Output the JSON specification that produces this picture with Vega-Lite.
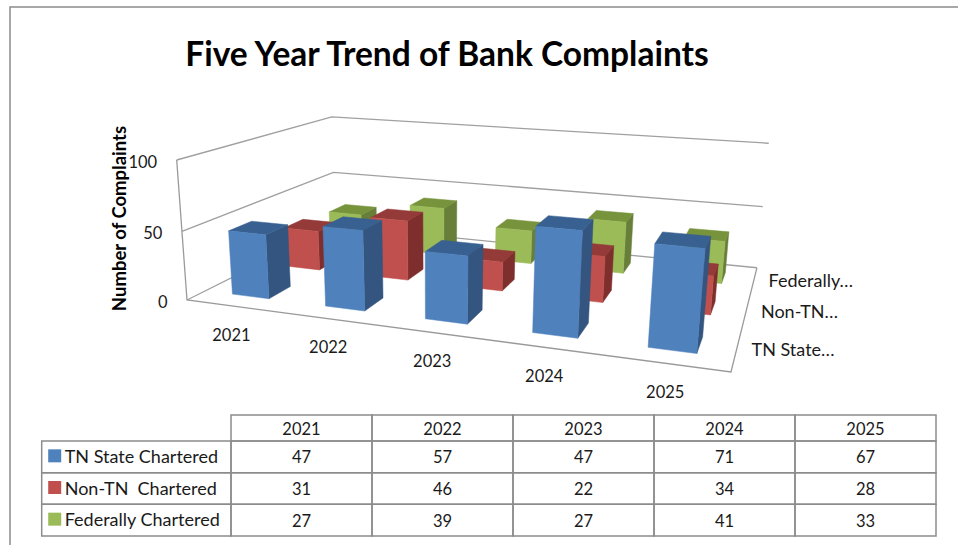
{
  "$schema": "https://vega.github.io/schema/vega-lite/v6.json",
  "width": 958,
  "height": 545,
  "padding": 0,
  "autosize": "none",
  "background": "white",
  "config": {"view": {"stroke": null}, "font": "Lato"},
  "title": {
    "text": "Five Year Trend of Bank Complaints",
    "font": "Lato", "fontSize": 33.5, "fontWeight": "bold", "color": "#000000",
    "anchor": "middle", "orient": "top", "offset": 0, "dx": -32, "dy": 99, "baseline": "alphabetic"
  },
  "datasets": {
    "complaints": [
      {"series": "Federally Chartered", "year": 2021, "value": 27},
      {"series": "Federally Chartered", "year": 2022, "value": 39},
      {"series": "Federally Chartered", "year": 2023, "value": 27},
      {"series": "Federally Chartered", "year": 2024, "value": 41},
      {"series": "Federally Chartered", "year": 2025, "value": 33},
      {"series": "Non-TN  Chartered", "year": 2021, "value": 31},
      {"series": "Non-TN  Chartered", "year": 2022, "value": 46},
      {"series": "Non-TN  Chartered", "year": 2023, "value": 22},
      {"series": "Non-TN  Chartered", "year": 2024, "value": 34},
      {"series": "Non-TN  Chartered", "year": 2025, "value": 28},
      {"series": "TN State Chartered", "year": 2021, "value": 47},
      {"series": "TN State Chartered", "year": 2022, "value": 57},
      {"series": "TN State Chartered", "year": 2023, "value": 47},
      {"series": "TN State Chartered", "year": 2024, "value": 71},
      {"series": "TN State Chartered", "year": 2025, "value": 67}
    ],
    "seriesNames": [
      {"series": "TN State Chartered", "label": "TN State Chartered", "short": "TN State…", "depth": 0},
      {"series": "Non-TN  Chartered", "label": "Non-TN \u00a0Chartered", "short": "Non-TN…", "depth": 1},
      {"series": "Federally Chartered", "label": "Federally Chartered", "short": "Federally…", "depth": 2}
    ],
    "ticks": [{"tick": 0}, {"tick": 50}, {"tick": 100}]
  },
  "resolve": {"scale": {"x": "independent", "y": "independent"}, "axis": {"x": "independent", "y": "independent"}},
  "layer": [
    {
      "description": "Outer chart frame",
      "data": {"values": [{"part": "frame"}]},
      "transform": [
        {"calculate": "{type:'LineString',coordinates:[[10,546],[10,7],[959,7]]}", "as": "path"}
      ],
      "mark": {"type": "geoshape", "filled": false, "stroke": "#8c8c8c", "strokeWidth": 1.5},
      "projection": {"type": "identity", "scale": 1, "translate": [0, 0]},
      "encoding": {"shape": {"field": "path", "type": "geojson"}}
    },
    {
      "description": "Gridlines on the two back walls, one polyline per tick",
      "data": {"name": "ticks"},
      "transform": [
        {"calculate": "datum.tick/100", "as": "w"},
        {"calculate": "{type:'LineString',coordinates:[[(187-17.4*datum.w)/(1-0.04*datum.w),(300-146.4*datum.w)/(1-0.04*datum.w)],[(435.4-17.4*datum.w)/(1.2997-0.04*datum.w),(293.7-146.4*datum.w)/(1.2997-0.04*datum.w)],[(855.1-17.4*datum.w)/(1.1297-0.04*datum.w),(302.5-146.4*datum.w)/(1.1297-0.04*datum.w)]]}", "as": "path"}
      ],
      "mark": {"type": "geoshape", "filled": false, "stroke": "#a0a0a0", "strokeWidth": 1.3},
      "projection": {"type": "identity", "scale": 1, "translate": [0, 0]},
      "encoding": {"shape": {"field": "path", "type": "geojson"}}
    },
    {
      "description": "Value-axis edge and the front and right edges of the floor",
      "data": {"values": [{"part": "floor"}]},
      "transform": [
        {"calculate": "{type:'LineString',coordinates:[[176.7,160],[187,300],[731,372],[756.9,267.8]]}", "as": "path"}
      ],
      "mark": {"type": "geoshape", "filled": false, "stroke": "#9a9a9a", "strokeWidth": 1.3},
      "projection": {"type": "identity", "scale": 1, "translate": [0, 0]},
      "encoding": {"shape": {"field": "path", "type": "geojson"}}
    },
    {
      "description": "Box faces: side, top and front of each bar, from the back series forward",
      "data": {"name": "complaints"},
      "transform": [
        {"calculate": "(datum.year-2021+0.3)*0.2", "as": "u0"},
        {"calculate": "datum.u0+0.08", "as": "u1"},
        {"calculate": "(indexof(['TN State Chartered','Non-TN  Chartered','Federally Chartered'],datum.series)+0.3)/3", "as": "v0"},
        {"calculate": "datum.v0+0.4/3", "as": "v1"},
        {"calculate": "datum.value/100", "as": "w"},
        {"calculate": "[(187+419.7*datum.u0+248.4*datum.v0)/(1-0.17*datum.u0+0.2997*datum.v0),(300+8.8*datum.u0-6.3*datum.v0)/(1-0.17*datum.u0+0.2997*datum.v0)]", "as": "flb"},
        {"calculate": "[(187+419.7*datum.u1+248.4*datum.v0)/(1-0.17*datum.u1+0.2997*datum.v0),(300+8.8*datum.u1-6.3*datum.v0)/(1-0.17*datum.u1+0.2997*datum.v0)]", "as": "frb"},
        {"calculate": "[(187+419.7*datum.u1+248.4*datum.v1)/(1-0.17*datum.u1+0.2997*datum.v1),(300+8.8*datum.u1-6.3*datum.v1)/(1-0.17*datum.u1+0.2997*datum.v1)]", "as": "brb"},
        {"calculate": "[(187+419.7*datum.u0+248.4*datum.v0-17.4*datum.w)/(1-0.17*datum.u0+0.2997*datum.v0-0.04*datum.w),(300+8.8*datum.u0-6.3*datum.v0-146.4*datum.w)/(1-0.17*datum.u0+0.2997*datum.v0-0.04*datum.w)]", "as": "flt"},
        {"calculate": "[(187+419.7*datum.u1+248.4*datum.v0-17.4*datum.w)/(1-0.17*datum.u1+0.2997*datum.v0-0.04*datum.w),(300+8.8*datum.u1-6.3*datum.v0-146.4*datum.w)/(1-0.17*datum.u1+0.2997*datum.v0-0.04*datum.w)]", "as": "frt"},
        {"calculate": "[(187+419.7*datum.u1+248.4*datum.v1-17.4*datum.w)/(1-0.17*datum.u1+0.2997*datum.v1-0.04*datum.w),(300+8.8*datum.u1-6.3*datum.v1-146.4*datum.w)/(1-0.17*datum.u1+0.2997*datum.v1-0.04*datum.w)]", "as": "brt"},
        {"calculate": "[(187+419.7*datum.u0+248.4*datum.v1-17.4*datum.w)/(1-0.17*datum.u0+0.2997*datum.v1-0.04*datum.w),(300+8.8*datum.u0-6.3*datum.v1-146.4*datum.w)/(1-0.17*datum.u0+0.2997*datum.v1-0.04*datum.w)]", "as": "blt"},
        {"calculate": "{type:'Polygon',coordinates:[[datum.frb,datum.brb,datum.brt,datum.frt,datum.frb]]}", "as": "side"},
        {"calculate": "{type:'Polygon',coordinates:[[datum.flt,datum.frt,datum.brt,datum.blt,datum.flt]]}", "as": "top"},
        {"calculate": "{type:'Polygon',coordinates:[[datum.flb,datum.frb,datum.frt,datum.flt,datum.flb]]}", "as": "front"},
        {"fold": ["side", "top", "front"], "as": ["face", "faceShape"]},
        {"calculate": "datum.series+' '+datum.face", "as": "shade"}
      ],
      "mark": {"type": "geoshape", "strokeWidth": 0.5},
      "projection": {"type": "identity", "scale": 1, "translate": [0, 0]},
      "encoding": {
        "shape": {"field": "faceShape", "type": "geojson"},
        "fill": {"field": "shade", "type": "nominal", "legend": null, "scale": {
          "domain": ["TN State Chartered front", "TN State Chartered side", "TN State Chartered top", "Non-TN  Chartered front", "Non-TN  Chartered side", "Non-TN  Chartered top", "Federally Chartered front", "Federally Chartered side", "Federally Chartered top"],
          "range": ["#4f81bd", "#33557f", "#386090", "#c0504d", "#7e2f2d", "#943a38", "#9bbb59", "#677f38", "#77933c"]}},
        "stroke": {"field": "shade", "type": "nominal", "legend": null, "scale": {
          "domain": ["TN State Chartered front", "TN State Chartered side", "TN State Chartered top", "Non-TN  Chartered front", "Non-TN  Chartered side", "Non-TN  Chartered top", "Federally Chartered front", "Federally Chartered side", "Federally Chartered top"],
          "range": ["#4f81bd", "#33557f", "#386090", "#c0504d", "#7e2f2d", "#943a38", "#9bbb59", "#677f38", "#77933c"]}}
      }
    },
    {
      "description": "Value-axis labels and title",
      "data": {"name": "ticks"},
      "transform": [
        {"calculate": "datum.tick/100", "as": "w"},
        {"calculate": "(187-17.4*datum.w)/(1-0.04*datum.w)", "as": "px"},
        {"calculate": "(300-146.4*datum.w)/(1-0.04*datum.w)", "as": "py"}
      ],
      "mark": {"type": "text", "align": "right", "baseline": "middle", "dx": -19.5, "dy": 2.5, "fontSize": 16.5, "color": "#1a1a1a"},
      "encoding": {
        "x": {"field": "px", "type": "quantitative", "axis": null, "scale": {"domain": [0, 958], "range": [0, 958]}},
        "y": {"field": "py", "type": "quantitative", "scale": {"domain": [0, 545], "range": [0, 545]},
          "axis": {"title": "Number of Complaints", "labels": false, "ticks": false, "domain": false, "grid": false,
            "titleX": 119, "titleY": 218, "titleFontSize": 18.5, "titleFontWeight": "bold", "titleColor": "#000000", "titleFont": "Lato", "titleAlign": "center", "titleBaseline": "middle", "titleAngle": 270}},
        "text": {"field": "tick", "type": "ordinal"}
      }
    },
    {
      "description": "Year labels under the front edge of the floor",
      "data": {"name": "complaints"},
      "transform": [
        {"filter": "datum.series === 'TN State Chartered'"},
        {"calculate": "(datum.year-2021+0.5)*0.2", "as": "u"},
        {"calculate": "(187+419.7*datum.u)/(1-0.17*datum.u)", "as": "px"},
        {"calculate": "(300+8.8*datum.u)/(1-0.17*datum.u)", "as": "py"}
      ],
      "mark": {"type": "text", "align": "center", "baseline": "middle", "dx": -1.5, "dy": 29.5, "fontSize": 16.5, "color": "#1a1a1a"},
      "encoding": {
        "x": {"field": "px", "type": "quantitative", "axis": null, "scale": {"domain": [0, 958], "range": [0, 958]}},
        "y": {"field": "py", "type": "quantitative", "axis": null, "scale": {"domain": [0, 545], "range": [0, 545]}},
        "text": {"field": "year", "type": "ordinal"}
      }
    },
    {
      "description": "Depth-axis labels beside the right edge of the floor",
      "data": {"name": "seriesNames"},
      "transform": [
        {"calculate": "(datum.depth+0.5)/3", "as": "v"},
        {"calculate": "(606.7+248.4*datum.v)/(0.83+0.2997*datum.v)", "as": "px"},
        {"calculate": "(308.8-6.3*datum.v)/(0.83+0.2997*datum.v)", "as": "py"}
      ],
      "mark": {"type": "text", "align": "left", "baseline": "middle", "dx": 15, "dy": 1, "fontSize": 18, "color": "#1a1a1a"},
      "encoding": {
        "x": {"field": "px", "type": "quantitative", "axis": null, "scale": {"domain": [0, 958], "range": [0, 958]}},
        "y": {"field": "py", "type": "quantitative", "axis": null, "scale": {"domain": [0, 545], "range": [0, 545]}},
        "text": {"field": "short", "type": "nominal"}
      }
    },
    {
      "description": "Data table: header cells",
      "data": {"name": "complaints"},
      "transform": [{"filter": "datum.series === 'TN State Chartered'"}],
      "mark": {"type": "rect", "filled": false, "stroke": "#8c8c8c", "strokeWidth": 1.5},
      "encoding": {
        "x": {"field": "year", "type": "ordinal", "axis": null, "scale": {"type": "band", "paddingInner": 0, "paddingOuter": 0, "range": [231, 936]}},
        "y": {"datum": "year", "type": "nominal", "axis": null, "scale": {"type": "band", "domain": ["year"], "paddingInner": 0, "paddingOuter": 0, "range": [415, 441]}}
      }
    },
    {
      "description": "Data table: header text",
      "data": {"name": "complaints"},
      "transform": [{"filter": "datum.series === 'TN State Chartered'"}],
      "mark": {"type": "text", "fontSize": 16.5, "baseline": "middle", "dy": 1.5, "color": "#1a1a1a"},
      "encoding": {
        "x": {"field": "year", "type": "ordinal", "axis": null, "scale": {"type": "band", "paddingInner": 0, "paddingOuter": 0, "range": [231, 936]}},
        "y": {"datum": "year", "type": "nominal", "axis": null, "scale": {"type": "band", "domain": ["year"], "paddingInner": 0, "paddingOuter": 0, "range": [415, 441]}},
        "text": {"field": "year", "type": "ordinal"}
      }
    },
    {
      "description": "Data table: value cells",
      "data": {"name": "complaints"},
      "mark": {"type": "rect", "filled": false, "stroke": "#8c8c8c", "strokeWidth": 1.5},
      "encoding": {
        "x": {"field": "year", "type": "ordinal", "axis": null, "scale": {"type": "band", "paddingInner": 0, "paddingOuter": 0, "range": [231, 936]}},
        "y": {"field": "series", "type": "nominal", "axis": null, "scale": {"type": "band", "domain": ["TN State Chartered", "Non-TN  Chartered", "Federally Chartered"], "paddingInner": 0, "paddingOuter": 0, "range": [441, 536]}}
      }
    },
    {
      "description": "Data table: value text",
      "data": {"name": "complaints"},
      "mark": {"type": "text", "fontSize": 16.5, "baseline": "middle", "dy": 1.5, "color": "#1a1a1a"},
      "encoding": {
        "x": {"field": "year", "type": "ordinal", "axis": null, "scale": {"type": "band", "paddingInner": 0, "paddingOuter": 0, "range": [231, 936]}},
        "y": {"field": "series", "type": "nominal", "axis": null, "scale": {"type": "band", "domain": ["TN State Chartered", "Non-TN  Chartered", "Federally Chartered"], "paddingInner": 0, "paddingOuter": 0, "range": [441, 536]}},
        "text": {"field": "value", "type": "quantitative"}
      }
    },
    {
      "description": "Data table: legend-key cells",
      "data": {"name": "seriesNames"},
      "mark": {"type": "rect", "filled": false, "stroke": "#8c8c8c", "strokeWidth": 1.5},
      "encoding": {
        "x": {"datum": "key", "type": "nominal", "axis": null, "scale": {"type": "band", "domain": ["key"], "paddingInner": 0, "paddingOuter": 0, "range": [41.7, 231]}},
        "y": {"field": "series", "type": "nominal", "axis": null, "scale": {"type": "band", "domain": ["TN State Chartered", "Non-TN  Chartered", "Federally Chartered"], "paddingInner": 0, "paddingOuter": 0, "range": [441, 536]}}
      }
    },
    {
      "description": "Data table: legend swatches",
      "data": {"name": "seriesNames"},
      "mark": {"type": "square", "filled": true, "size": 169, "opacity": 1, "xOffset": 13, "yOffset": -1},
      "encoding": {
        "x": {"datum": "key", "type": "nominal", "bandPosition": 0, "axis": null, "scale": {"type": "band", "domain": ["key"], "paddingInner": 0, "paddingOuter": 0, "range": [41.7, 231]}},
        "y": {"field": "series", "type": "nominal", "axis": null, "scale": {"type": "band", "domain": ["TN State Chartered", "Non-TN  Chartered", "Federally Chartered"], "paddingInner": 0, "paddingOuter": 0, "range": [441, 536]}},
        "color": {"field": "series", "type": "nominal", "legend": null, "scale": {"domain": ["TN State Chartered", "Non-TN  Chartered", "Federally Chartered"], "range": ["#4f81bd", "#c0504d", "#9bbb59"]}}
      }
    },
    {
      "description": "Data table: series names",
      "data": {"name": "seriesNames"},
      "mark": {"type": "text", "align": "left", "baseline": "middle", "dx": 23, "dy": 1, "fontSize": 18, "color": "#1a1a1a"},
      "encoding": {
        "x": {"datum": "key", "type": "nominal", "bandPosition": 0, "axis": null, "scale": {"type": "band", "domain": ["key"], "paddingInner": 0, "paddingOuter": 0, "range": [41.7, 231]}},
        "y": {"field": "series", "type": "nominal", "axis": null, "scale": {"type": "band", "domain": ["TN State Chartered", "Non-TN  Chartered", "Federally Chartered"], "paddingInner": 0, "paddingOuter": 0, "range": [441, 536]}},
        "text": {"field": "label", "type": "nominal"}
      }
    }
  ]
}
